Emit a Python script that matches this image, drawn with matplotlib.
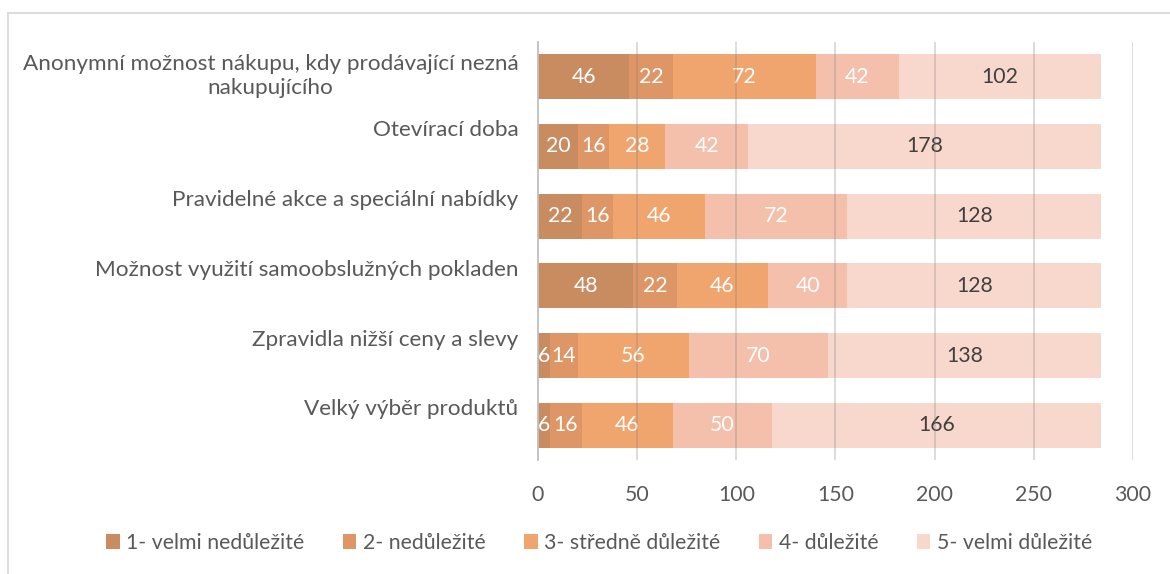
import numpy as np
import matplotlib
matplotlib.use('Agg')
from matplotlib import pyplot as plt
from matplotlib import transforms
from matplotlib.lines import Line2D

# data
kategorie = ['Anonymní možnost nákupu, kdy prodávající nezná\nnakupujícího',
             'Otevírací doba',
             'Pravidelné akce a speciální nabídky',
             'Možnost využití samoobslužných pokladen',
             'Zpravidla nižší ceny a slevy',
             'Velký výběr produktů']
serie = ['1- velmi nedůležité', '2- nedůležité', '3- středně důležité',
         '4- důležité', '5- velmi důležité']
hodnoty_1 = [46, 20, 22, 48, 6, 6]
hodnoty_2 = [22, 16, 16, 22, 14, 16]
hodnoty_3 = [72, 28, 46, 46, 56, 46]
hodnoty_4 = [42, 42, 72, 40, 70, 50]
hodnoty_5 = [102, 178, 128, 128, 138, 166]
osa_x = [0, 50, 100, 150, 200, 250, 300]

barvy = ['#C98B60', '#DE9666', '#F0A56E', '#F4C0AC', '#F8D8CD']
barvy_textu = ['white', 'white', 'white', 'white', '#404040']
sedy = '#595959'
velikost = 15.3

plt.rcParams['font.family'] = ['Lato', 'DejaVu Sans']

fig = plt.figure(figsize=(11.7, 5.74), dpi=100)
ax = fig.add_axes([538 / 1170, 1 - 460 / 574, (1133 - 538) / 1170, (460 - 42) / 574])

y = np.arange(len(kategorie))
vlevo = np.zeros(len(kategorie))
for i, data in enumerate([hodnoty_1, hodnoty_2, hodnoty_3, hodnoty_4, hodnoty_5]):
    bary = ax.barh(y, data, left=vlevo, height=0.65, color=barvy[i], label=serie[i], zorder=1)
    ax.bar_label(bary, labels=[str(v) for v in data], label_type='center',
                 color=barvy_textu[i], fontsize=velikost)
    vlevo += np.array(data)

ax.set_xlim(0, 300)
ax.set_ylim(len(kategorie) - 0.5, -0.5)
ax.set_xticks(osa_x)
ax.set_xticklabels([str(v) for v in osa_x])
ax.set_yticks(y)
ax.set_yticklabels(kategorie, multialignment='center', linespacing=1.25, fontsize=16.2)

# mrizka pres sloupce
for v in osa_x[1:]:
    ax.axvline(v, color=(0.5, 0.5, 0.5, 0.3), lw=1.3, zorder=3)

for s in ['top', 'right', 'bottom']:
    ax.spines[s].set_visible(False)
ax.spines['left'].set_color('#BFBFBF')
ax.spines['left'].set_linewidth(1.3)
ax.spines['left'].set_zorder(4)

ax.tick_params(axis='both', length=0, labelcolor=sedy)
ax.tick_params(axis='x', pad=18, labelsize=velikost)
ax.tick_params(axis='y', pad=14)

# popisky kategorii jsou posunute nahoru
for i, lab in enumerate(ax.get_yticklabels()):
    posun = -5 if '\n' in kategorie[i] else -18
    lab.set_transform(lab.get_transform() + transforms.ScaledTranslation(0, -posun / 100, fig.dpi_scale_trans))

leg = fig.legend(loc='center', bbox_to_anchor=(599 / 1170, 1 - 543 / 574), ncol=5, frameon=False,
                 fontsize=velikost, handlelength=0.65, handleheight=0.65, handletextpad=0.3,
                 columnspacing=1.8)
for t in leg.get_texts():
    t.set_color(sedy)

# ramecek grafu
fig.add_artist(Line2D([8 / 1170, 8 / 1170], [0, 1 - 13 / 574], transform=fig.transFigure,
                      color='#D9D9D9', lw=1.3))
fig.add_artist(Line2D([8 / 1170, 1], [1 - 13 / 574, 1 - 13 / 574], transform=fig.transFigure,
                      color='#D9D9D9', lw=1.3))

fig.savefig('out.png', dpi=100)
